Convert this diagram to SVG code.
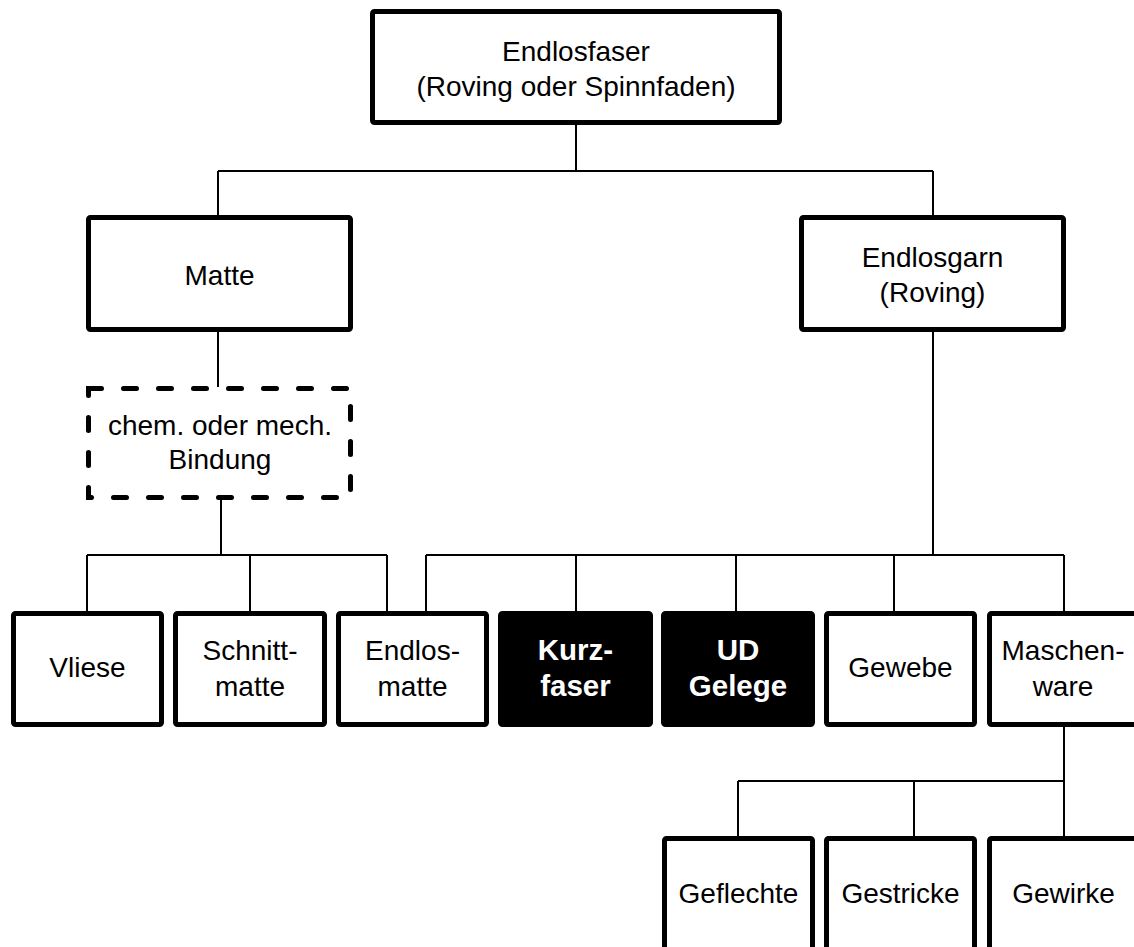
<svg xmlns="http://www.w3.org/2000/svg" width="1134" height="947" viewBox="0 0 1134 947">
  <style>
    .box { fill: #ffffff; stroke: #000000; stroke-width: 5; }
    .dark { fill: #000000; stroke: #000000; stroke-width: 5; }
    .dashed { fill: #ffffff; stroke: #000000; stroke-width: 5; stroke-dasharray: 13 22; stroke-linecap: round; }
    .link { fill: none; stroke: #000000; stroke-width: 2; }
    text { font-family: "Liberation Sans", Arial, sans-serif; font-size: 28px; text-anchor: middle; fill: #000000; }
    .inv { fill: #ffffff; font-weight: bold; font-size: 29.5px; }
  </style>
  <rect width="1134" height="947" fill="#ffffff"/>

  <!-- connectors -->
  <g id="connectors">
    <path class="link" d="M576,125 V171 M218,171 H933 M218,171 V215 M933,171 V215"/>
    <path class="link" d="M218,332 V387"/>
    <path class="link" d="M221,500 V555 M87,555 H387 M87,555 V611 M250,555 V611 M387,555 V611"/>
    <path class="link" d="M933,332 V555 M426,555 H1064 M426,555 V611 M576,555 V611 M736,555 V611 M894,555 V611 M1064,555 V611"/>
    <path class="link" d="M1064,727 V836 M738,781 H1064 M738,781 V836 M914,781 V836"/>
  </g>

  <g id="endlosfaser">
    <rect class="box" x="372.5" y="11.5" width="407" height="111" rx="2"/>
    <text x="576" y="61">Endlosfaser</text>
    <text x="576" y="96">(Roving oder Spinnfaden)</text>
  </g>

  <g id="matte">
    <rect class="box" x="88.5" y="217.5" width="262" height="112" rx="2"/>
    <text x="219.5" y="285">Matte</text>
  </g>

  <g id="endlosgarn">
    <rect class="box" x="801.5" y="217.5" width="262" height="112" rx="2"/>
    <text x="932.5" y="267">Endlosgarn</text>
    <text x="932.5" y="302">(Roving)</text>
  </g>

  <g id="bindung">
    <rect class="dashed" x="88.5" y="388.5" width="262" height="109"/>
    <text x="220" y="435">chem. oder mech.</text>
    <text x="220" y="469">Bindung</text>
  </g>

  <g id="vliese">
    <rect class="box" x="13.5" y="613.5" width="148" height="111" rx="2"/>
    <text x="87.5" y="677">Vliese</text>
  </g>

  <g id="schnittmatte">
    <rect class="box" x="175.5" y="613.5" width="149" height="111" rx="2"/>
    <text x="250" y="660">Schnitt-</text>
    <text x="250" y="696">matte</text>
  </g>

  <g id="endlosmatte">
    <rect class="box" x="338.5" y="613.5" width="148" height="111" rx="2"/>
    <text x="412.5" y="660">Endlos-</text>
    <text x="412.5" y="696">matte</text>
  </g>

  <g id="kurzfaser">
    <rect class="dark" x="500.5" y="613.5" width="150" height="111" rx="2"/>
    <text class="inv" x="575.5" y="660">Kurz-</text>
    <text class="inv" x="575.5" y="696">faser</text>
  </g>

  <g id="ud-gelege">
    <rect class="dark" x="663.5" y="613.5" width="149" height="111" rx="2"/>
    <text class="inv" x="738" y="660">UD</text>
    <text class="inv" x="738" y="696">Gelege</text>
  </g>

  <g id="gewebe">
    <rect class="box" x="826.5" y="613.5" width="148" height="111" rx="2"/>
    <text x="900.5" y="677">Gewebe</text>
  </g>

  <g id="maschenware">
    <rect class="box" x="989.5" y="613.5" width="148" height="111" rx="2"/>
    <text x="1063" y="660">Maschen-</text>
    <text x="1063" y="696">ware</text>
  </g>

  <g id="geflechte">
    <rect class="box" x="664.5" y="838.5" width="148" height="120" rx="2"/>
    <text x="738.5" y="903">Geflechte</text>
  </g>

  <g id="gestricke">
    <rect class="box" x="826.5" y="838.5" width="148" height="120" rx="2"/>
    <text x="900.5" y="903">Gestricke</text>
  </g>

  <g id="gewirke">
    <rect class="box" x="989.5" y="838.5" width="148" height="120" rx="2"/>
    <text x="1063.5" y="903">Gewirke</text>
  </g>
</svg>
